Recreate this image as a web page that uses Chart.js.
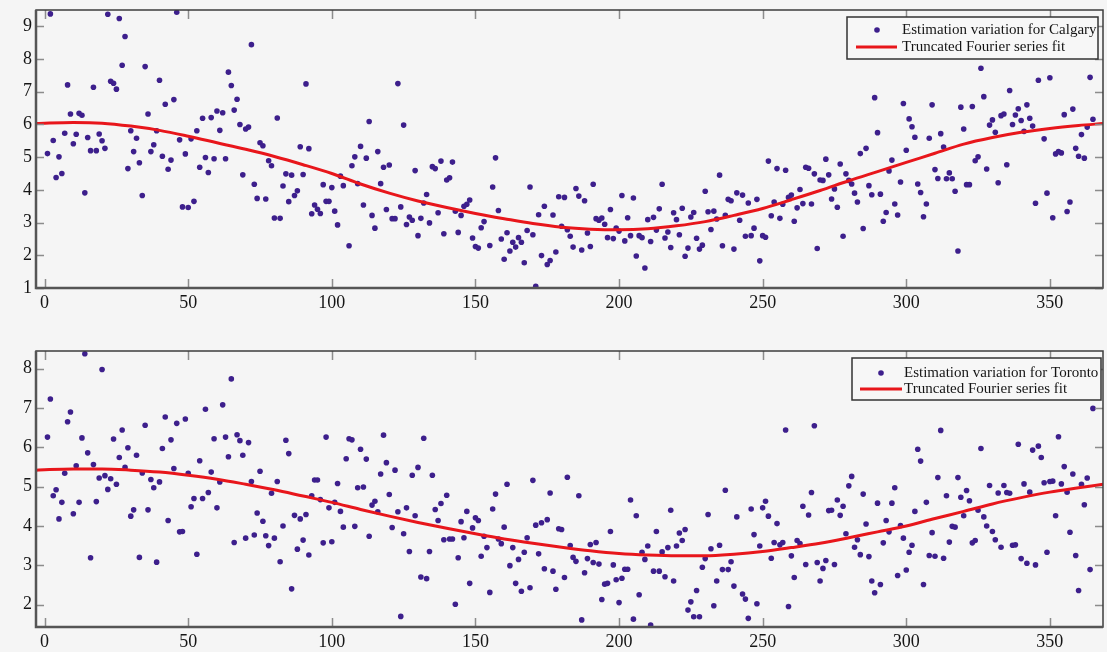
<!DOCTYPE html>
<html><head><meta charset="utf-8">
<script src="https://cdn.jsdelivr.net/npm/chart.js@4.4.1/dist/chart.umd.min.js"></script>
<style>
html,body{margin:0;padding:0;background:#f5f5f5;}
#wrap{position:relative;width:1107px;height:652px;overflow:hidden;background:#f5f5f5}
.c{position:absolute;left:0;width:1107px}
#c1{top:0;height:320px}
#c2{top:320px;height:332px}
</style></head><body>
<div id="wrap"><div class="c" id="c1"><canvas id="topChart"></canvas></div><div class="c" id="c2"><canvas id="bottomChart"></canvas></div></div>
<script>
// ---- categories ----
const days = Array.from({length: 365}, (_, i) => i + 1);
const xTicks = [0, 50, 100, 150, 200, 250, 300, 350];
const calgaryYTicks = [1, 2, 3, 4, 5, 6, 7, 8, 9];
const torontoYTicks = [2, 3, 4, 5, 6, 7, 8];
const calgaryLabels = ['Estimation variation for Calgary', 'Truncated Fourier series fit'];
const torontoLabels = ['Estimation variation for Toronto', 'Truncated Fourier series fit'];

// ---- daily estimation values ----
const calgaryValues = [
5.11,9.38,5.51,4.38,5.01,4.5,5.73,7.21,6.32,5.41,
5.7,6.34,6.28,3.91,5.6,5.2,7.14,5.2,5.71,5.5,
5.27,9.37,7.32,7.26,7.08,9.24,7.81,8.69,4.65,5.81,
5.17,5.58,4.83,3.83,7.77,6.32,5.17,5.38,5.81,7.35,
5.03,6.62,4.63,4.91,6.76,9.43,5.53,3.48,5.1,3.46,
5.56,3.65,5.81,4.69,6.19,4.99,4.53,6.21,4.95,6.41,
5.82,6.36,4.95,7.6,7.19,6.44,6.77,6.0,4.46,5.86,
5.92,8.44,4.17,3.74,5.44,5.35,3.72,4.89,4.74,3.14,
6.2,3.13,4.12,4.49,3.64,4.45,3.83,3.97,5.32,4.47,
7.24,5.26,3.27,3.54,3.41,3.28,4.16,3.65,3.65,4.07,
3.35,2.93,4.42,4.13,null,2.29,4.74,5.01,4.19,5.33,
3.54,4.97,6.09,3.22,2.83,5.17,4.19,4.69,3.4,4.76,
3.12,3.12,7.25,3.48,5.98,2.94,3.17,3.07,4.59,2.6,
3.13,3.6,3.86,2.99,4.71,4.65,3.3,4.88,2.66,4.3,
4.37,4.85,3.35,2.7,3.22,3.5,3.56,3.69,2.53,2.27,
2.22,2.84,3.03,null,2.3,4.09,4.98,3.37,2.5,1.88,
2.69,2.13,2.4,2.25,2.54,2.4,1.77,2.76,4.09,2.63,
1.05,3.24,1.99,3.5,1.72,1.84,3.23,2.1,3.79,2.89,
3.77,2.78,2.58,2.25,4.04,3.81,2.16,3.67,2.68,2.27,
4.17,3.12,3.07,3.14,2.95,2.54,3.4,2.51,2.83,2.74,
3.83,2.44,3.15,2.6,3.75,1.98,2.6,2.54,1.61,3.09,
2.42,3.16,2.77,3.42,4.17,2.53,2.71,2.24,3.3,3.09,
2.63,3.44,1.97,2.22,3.17,3.31,2.52,2.19,2.31,3.96,
3.33,2.79,3.35,3.11,4.45,2.29,3.22,3.71,3.67,2.19,
3.91,3.07,3.84,2.58,3.6,2.6,2.83,3.71,1.83,2.6,
2.55,4.88,3.21,3.63,4.65,3.13,3.56,4.6,3.77,3.84,
3.04,3.45,4.01,3.58,4.69,4.66,3.57,4.49,2.21,4.3,
4.29,4.94,4.46,3.72,4.03,3.47,4.79,2.58,4.49,4.29,
4.18,3.9,3.63,5.11,2.82,5.27,4.13,3.85,6.82,5.75,
3.87,3.04,3.31,4.58,4.91,3.57,3.23,4.24,6.64,5.21,
6.17,5.93,5.61,4.18,3.92,3.18,3.57,5.58,6.6,4.62,
4.35,5.72,5.31,4.34,4.52,4.34,3.96,2.13,6.53,5.86,
4.16,4.16,6.55,4.89,5.01,7.72,6.85,4.64,5.98,6.14,
5.76,4.22,6.27,6.32,4.77,7.04,6.0,6.29,6.48,6.12,
5.79,6.6,6.19,5.95,3.59,7.35,null,5.56,3.9,7.43,
3.15,5.1,5.17,5.13,6.3,3.34,3.63,6.47,5.27,5.03,
5.69,4.97,5.92,7.44,6.16];

const torontoValues = [
6.26,7.23,4.77,4.92,4.18,4.6,5.34,6.65,6.9,4.31,
5.53,4.6,6.24,8.38,5.86,3.19,5.56,4.62,5.22,7.98,
5.28,4.93,5.2,6.21,5.06,5.74,6.44,5.49,5.99,4.25,
4.41,5.8,3.2,5.35,6.56,4.41,5.18,4.97,3.08,5.12,
5.97,6.77,4.14,6.19,5.46,6.61,3.85,3.86,6.72,5.34,
4.49,4.7,3.28,5.66,4.7,6.97,4.85,5.37,6.22,4.46,
5.12,7.08,6.26,5.76,7.74,3.58,6.32,6.17,5.8,3.69,
6.12,5.13,3.77,4.33,5.39,4.12,3.75,3.5,4.83,3.69,
5.13,3.09,4.0,6.18,5.84,2.4,4.27,3.41,4.18,3.64,
4.29,3.26,4.77,5.17,5.17,4.67,3.57,6.26,4.46,3.6,
4.6,5.08,4.37,3.97,5.71,6.22,6.19,3.99,4.97,5.95,
4.99,5.7,3.74,4.53,4.63,4.36,5.32,6.31,5.61,4.8,
3.96,5.42,4.36,1.7,3.8,4.46,3.35,5.29,4.26,5.49,
2.7,6.23,2.66,3.35,5.29,4.42,4.14,4.57,3.65,4.78,
3.67,3.67,2.01,3.19,4.11,3.7,4.37,2.54,3.95,4.21,
4.14,3.23,3.74,3.45,2.31,4.43,4.81,3.67,3.55,3.97,
5.06,2.99,3.45,2.54,3.15,2.34,3.33,3.7,2.43,5.16,
4.02,3.29,4.08,2.91,4.16,4.84,2.85,2.39,3.93,3.91,
2.69,5.24,3.5,3.2,3.1,4.77,1.61,2.81,3.17,3.53,
3.07,3.58,3.03,2.13,2.52,2.54,3.86,3.01,2.63,2.05,
2.67,2.9,2.9,4.66,1.63,4.26,2.25,3.33,3.15,3.49,
1.48,2.85,3.86,2.85,3.34,2.71,3.45,4.4,2.6,3.49,
3.82,3.63,3.91,1.86,2.07,1.69,2.36,1.69,2.95,3.17,
4.29,3.42,1.97,2.6,3.51,2.89,4.91,2.89,3.09,2.47,
4.23,null,2.27,2.14,1.65,4.43,3.78,2.02,3.49,4.46,
4.63,4.25,3.18,3.58,4.06,3.52,3.58,6.44,1.95,3.24,
2.69,3.63,3.55,4.5,3.02,4.28,4.85,6.55,3.07,2.6,
2.92,3.12,4.39,4.4,3.02,4.66,4.27,4.5,3.8,5.02,
5.26,3.46,3.65,3.27,4.81,4.05,3.22,2.6,2.3,4.58,
2.51,3.57,4.14,3.85,4.58,4.97,2.74,4.01,3.69,2.88,
3.33,3.51,4.37,5.95,5.65,2.51,4.6,3.25,3.83,3.23,
5.23,6.43,3.18,4.77,3.59,3.99,3.97,5.23,4.73,4.26,
4.9,4.64,3.57,3.63,4.4,5.97,4.23,4.0,5.03,3.86,
3.65,4.84,3.46,5.03,4.85,4.83,3.51,3.52,6.08,3.17,
5.07,3.05,4.86,5.93,3.01,6.03,5.74,5.1,3.33,5.13,
5.14,4.26,6.27,5.07,5.51,4.86,3.84,5.32,3.25,2.36,
5.06,4.54,5.22,2.89,6.99];

// ---- fitted curves ----
const fitDays = [-3,0,10,20,30,40,50,60,70,80,90,100,110,120,130,140,150,160,170,180,190,200,210,220,230,240,250,260,270,280,290,300,310,320,330,340,350,360,368.5];
const calgaryFit = [6.03,6.04,6.06,6.04,5.95,5.82,5.64,5.44,5.24,5.02,4.77,4.5,4.18,3.9,3.66,3.46,3.28,3.12,2.97,2.86,2.8,2.78,2.81,2.9,3.03,3.22,3.43,3.7,3.98,4.28,4.56,4.84,5.12,5.4,5.6,5.76,5.88,5.97,6.03];
const torontoFit = [5.42,5.43,5.45,5.45,5.42,5.37,5.29,5.19,5.06,4.92,4.76,4.6,4.42,4.25,4.09,3.94,3.8,3.67,3.56,3.46,3.37,3.3,3.26,3.24,3.24,3.28,3.35,3.45,3.56,3.7,3.85,4.0,4.19,4.37,4.56,4.72,4.86,4.97,5.06];

const DOT = '#3d1f8c';
const RED = '#e8161b';
const SERIF = '"Liberation Serif", "Times New Roman", serif';

function pts(xs, ys) {
  const out = [];
  xs.forEach((x, i) => { if (ys[i] !== null && ys[i] !== undefined) out.push({x: x, y: ys[i]}); });
  return out;
}

const framePlugin = {
  id: 'frameTicks',
  afterDatasetsDraw(chart) {
    const {ctx, chartArea: a, scales: {x, y}} = chart;
    ctx.save();
    ctx.strokeStyle = '#8c8c8c';
    ctx.lineWidth = 1.5;
    ctx.beginPath();
    x.ticks.forEach(t => {
      const px = Math.round(x.getPixelForValue(t.value)) + 0.5;
      ctx.moveTo(px, a.bottom); ctx.lineTo(px, a.bottom - 9);
      ctx.moveTo(px, a.top); ctx.lineTo(px, a.top + 9);
    });
    y.ticks.forEach(t => {
      const py = Math.round(y.getPixelForValue(t.value)) + 0.5;
      ctx.moveTo(a.left, py); ctx.lineTo(a.left + 8, py);
      ctx.moveTo(a.right, py); ctx.lineTo(a.right - 8, py);
    });
    ctx.stroke();
    ctx.strokeStyle = '#3c3c3c';
    ctx.lineWidth = 1.5;
    ctx.strokeRect(a.left, a.top, a.right - a.left, a.bottom - a.top);
    ctx.lineWidth = 2.5;
    ctx.strokeStyle = '#555';
    ctx.beginPath();
    ctx.moveTo(a.left, a.top); ctx.lineTo(a.left, a.bottom); ctx.lineTo(a.right, a.bottom);
    ctx.stroke();
    ctx.restore();
  },
  afterDraw(chart) {
    const L = chart.options.plugins.frameTicks;
    if (!L) return;
    const ctx = chart.ctx;
    ctx.save();
    ctx.fillStyle = '#f7f7f7';
    ctx.fillRect(L.box[0], L.box[1], L.box[2] - L.box[0], L.box[3] - L.box[1]);
    ctx.strokeStyle = '#333';
    ctx.lineWidth = 1.5;
    ctx.strokeRect(L.box[0], L.box[1], L.box[2] - L.box[0], L.box[3] - L.box[1]);
    ctx.fillStyle = DOT;
    ctx.beginPath(); ctx.arc(L.marker, L.rows[0], 2.8, 0, Math.PI * 2); ctx.fill();
    ctx.strokeStyle = RED; ctx.lineWidth = 3;
    ctx.beginPath(); ctx.moveTo(L.line[0], L.rows[1]); ctx.lineTo(L.line[1], L.rows[1]); ctx.stroke();
    ctx.fillStyle = '#151515';
    ctx.font = '15px ' + SERIF;
    ctx.textBaseline = 'middle';
    ctx.textAlign = 'left';
    ctx.fillText(L.labels[0], L.textX, L.rows[0]);
    ctx.fillText(L.labels[1], L.textX, L.rows[1]);
    ctx.restore();
  }
};

function makeChart(id, values, fit, yTicks, yMin, yMax, labels, pad, xH, legend) {
  return new Chart(document.getElementById(id), {
    type: 'scatter',
    data: {
      datasets: [
        {label: labels[1], data: pts(fitDays, fit), showLine: true, borderColor: RED, borderWidth: 3,
         pointRadius: 0, cubicInterpolationMode: 'monotone', fill: false},
        {label: labels[0], data: pts(days, values), backgroundColor: DOT, borderColor: DOT,
         pointRadius: 2.8, borderWidth: 0}
      ]
    },
    options: {
      responsive: true, maintainAspectRatio: false, animation: false, devicePixelRatio: 1,
      layout: {padding: pad},
      plugins: {legend: {display: false}, tooltip: {enabled: false},
        frameTicks: Object.assign({labels: labels}, legend)},
      scales: {
        x: {type: 'linear', min: -3, max: 368.5,
          afterBuildTicks: s => { s.ticks = xTicks.map(v => ({value: v})); },
          afterFit: s => { s.height = xH; s.paddingLeft = 0; s.paddingRight = 0; s.paddingTop = 0; s.paddingBottom = 0; },
          grid: {display: false, drawTicks: false}, border: {display: false},
          ticks: {padding: 4, color: '#151515', font: {family: SERIF, size: 18}, maxRotation: 0}},
        y: {type: 'linear', min: yMin, max: yMax,
          afterBuildTicks: s => { s.ticks = yTicks.map(v => ({value: v})); },
          afterFit: s => { s.width = 36; s.paddingTop = 0; s.paddingBottom = 0; s.paddingLeft = 0; s.paddingRight = 0; },
          grid: {display: false, drawTicks: false}, border: {display: false},
          ticks: {padding: 4, color: '#151515', font: {family: SERIF, size: 18}}}
      }
    },
    plugins: [framePlugin]
  });
}

makeChart('topChart', calgaryValues, calgaryFit, calgaryYTicks, 1, 9.5, calgaryLabels,
  {top: 10, right: 2, left: 0, bottom: 0}, 32,
  {box: [847, 17, 1098, 59], rows: [30, 47], marker: 877, line: [856, 897], textX: 902});
makeChart('bottomChart', torontoValues, torontoFit, torontoYTicks, 1.43, 8.45, torontoLabels,
  {top: 31, right: 2, left: 0, bottom: 0}, 25,
  {box: [852, 38, 1101, 80], rows: [53, 69], marker: 881, line: [860, 902], textX: 904});
</script>
</body></html>
